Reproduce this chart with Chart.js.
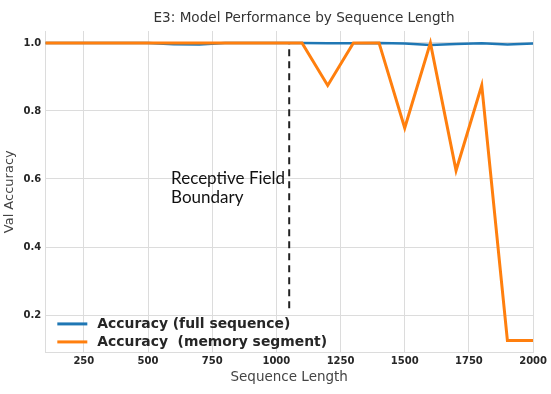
<!DOCTYPE html>
<html>
<head>
<meta charset="utf-8">
<script src="https://cdn.jsdelivr.net/npm/chart.js@4/dist/chart.umd.min.js"></script>
<style>
  html, body { margin: 0; padding: 0; background: #fff; }
  #wrap { width: 551px; height: 394px; }
</style>
</head>
<body>
<div id="wrap"><canvas id="chart"></canvas></div>
<script>
// data
var seqLengths = [100, 200, 300, 400, 500, 600, 700, 800, 900, 1000, 1100, 1200, 1300, 1400, 1500, 1600, 1700, 1800, 1900, 2000];
var accFull = [1.0, 1.0, 1.0, 1.0, 1.0, 0.996, 0.995, 1.0, 1.0, 1.0, 1.0, 0.999, 0.999, 1.0, 0.998, 0.994, 0.997, 0.999, 0.995, 0.998];
var accMemory = [1.0, 1.0, 1.0, 1.0, 1.0, 1.0, 1.0, 1.0, 1.0, 1.0, 1.0, 0.875, 1.0, 1.0, 0.75, 1.0, 0.625, 0.875, 0.125, 0.125];
var xTicks = [250, 500, 750, 1000, 1250, 1500, 1750, 2000];
var yTicks = [0.2, 0.4, 0.6, 0.8, 1.0];
var boundaryX = 1050;
var boundaryY = [0.22, 1.0];
var boundaryLabel = ['Receptive Field', 'Boundary'];
var seriesNames = ['Accuracy (full sequence)', 'Accuracy  (memory segment)'];
var seriesColors = ['#1f77b4', '#ff7f0e'];
var chartTitle = 'E3: Model Performance by Sequence Length';

function toPoints(xs, ys) {
    return xs.map(function(x, i) { return { x: x, y: ys[i] }; });
}

// title, text label and legend drawn by hand
var extras = {
    id: 'extras',
    afterDatasetsDraw: function(chart) {
        var ctx = chart.ctx;
        var xs = chart.scales.x, ys = chart.scales.y;
        ctx.save();
        ctx.textBaseline = 'middle';

        ctx.fillStyle = '#333';
        ctx.font = '13.6px "DejaVu Sans", sans-serif';
        ctx.textAlign = 'center';
        ctx.fillText(chartTitle, 304, 18);

        ctx.textAlign = 'left';
        ctx.fillStyle = '#111';
        ctx.font = '17px Lato, "Noto Sans", sans-serif';
        ctx.fillText(boundaryLabel[0], xs.getPixelForValue(590), ys.getPixelForValue(0.6));
        ctx.fillText(boundaryLabel[1], xs.getPixelForValue(590), ys.getPixelForValue(0.547));

        // legend
        var lx = chart.chartArea.left + 12, ly = ys.getPixelForValue(0.174);
        ctx.font = 'bold 13.9px "DejaVu Sans", sans-serif';
        ctx.fillStyle = '#262626';
        seriesNames.forEach(function(name, i) {
            var y = ly + i * 18;
            ctx.strokeStyle = seriesColors[i];
            ctx.lineWidth = 3;
            ctx.beginPath();
            ctx.moveTo(lx, y);
            ctx.lineTo(lx + 30, y);
            ctx.stroke();
            ctx.fillText(name, lx + 40, y);
        });
        ctx.restore();
    }
};

new Chart(document.getElementById('chart'), {
    type: 'line',
    data: {
        datasets: [
            {
                label: 'boundary',
                data: [{ x: boundaryX, y: boundaryY[0] }, { x: boundaryX, y: boundaryY[1] }],
                borderColor: '#222',
                borderWidth: 2,
                borderDash: [7, 5],
                pointRadius: 0,
                order: 3
            },
            {
                label: seriesNames[0],
                data: toPoints(seqLengths, accFull),
                borderColor: seriesColors[0],
                borderWidth: 2.5,
                pointRadius: 0,
                order: 2
            },
            {
                label: seriesNames[1],
                data: toPoints(seqLengths, accMemory),
                borderColor: seriesColors[1],
                borderWidth: 3,
                pointRadius: 0,
                order: 1
            }
        ]
    },
    options: {
        responsive: true,
        maintainAspectRatio: false,
        animation: false,
        layout: { padding: { left: 2, right: 0, top: 31, bottom: 10 } },
        plugins: {
            legend: { display: false },
            tooltip: { enabled: false },
            title: { display: false }
        },
        scales: {
            x: {
                type: 'linear',
                min: 100,
                max: 2000,
                afterBuildTicks: function(axis) { axis.ticks = xTicks.map(function(v) { return { value: v }; }); },
                grid: { color: '#dcdcdc', drawTicks: false },
                border: { color: '#dcdcdc' },
                ticks: {
                    color: '#262626',
                    padding: 4,
                    maxRotation: 0,
                    callback: function(v) { return String(v); },
                    font: { family: '"DejaVu Sans", sans-serif', size: 10, weight: 'bold', lineHeight: 1.0 }
                },
                title: {
                    display: true,
                    text: 'Sequence Length',
                    color: '#444',
                    padding: { top: 0, bottom: 0 },
                    font: { family: '"DejaVu Sans", sans-serif', size: 13.5, lineHeight: 1.0 }
                }
            },
            y: {
                min: 0.09,
                max: 1.035,
                afterBuildTicks: function(axis) { axis.ticks = yTicks.map(function(v) { return { value: v }; }); },
                grid: { color: '#dcdcdc', drawTicks: false },
                border: { color: '#dcdcdc' },
                ticks: {
                    color: '#262626',
                    padding: 4,
                    callback: function(v) { return v.toFixed(1); },
                    font: { family: '"DejaVu Sans", sans-serif', size: 10, weight: 'bold' }
                },
                title: {
                    display: true,
                    text: 'Val Accuracy',
                    color: '#444',
                    padding: { top: 0, bottom: 2 },
                    font: { family: '"DejaVu Sans", sans-serif', size: 13 }
                }
            }
        }
    },
    plugins: [extras]
});
</script>
</body>
</html>
